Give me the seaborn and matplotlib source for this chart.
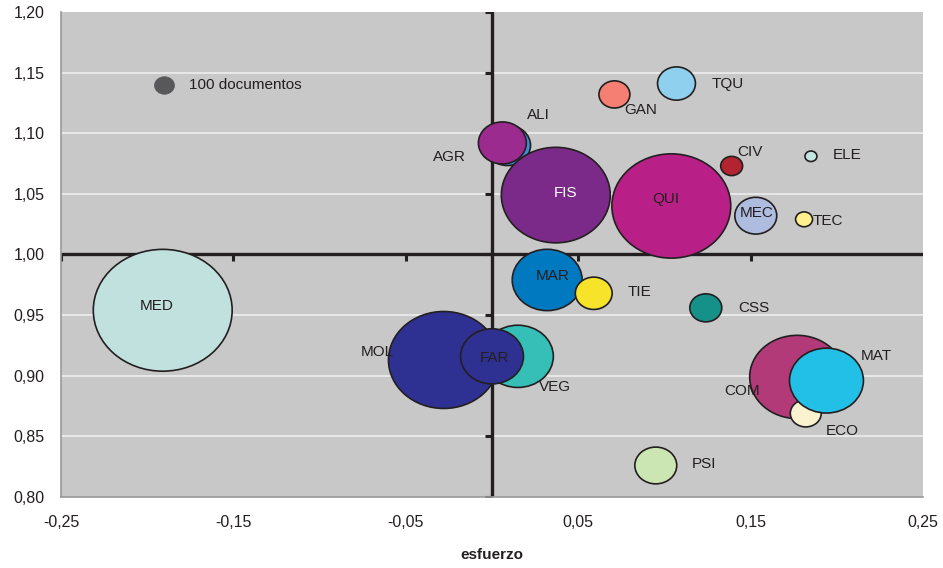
import numpy as np
import pandas as pd
import matplotlib
matplotlib.use('Agg')
import matplotlib.pyplot as plt
from matplotlib.path import Path
from matplotlib.transforms import Affine2D
from matplotlib.ticker import FuncFormatter, FixedLocator, MultipleLocator
import seaborn as sns

# datos (esfuerzo vs impacto, tamano = documentos)
areas = ['MED', 'MOL', 'VEG', 'FAR', 'ALI', 'AGR', 'FIS', 'QUI', 'MAR', 'TIE',
         'GAN', 'TQU', 'CIV', 'ELE', 'MEC', 'TEC', 'CSS', 'COM', 'ECO', 'MAT', 'PSI']
esfuerzo = [-0.191, -0.028, 0.015, -0.000, 0.009, 0.006, 0.037, 0.104, 0.032, 0.059,
            0.071, 0.107, 0.139, 0.185, 0.153, 0.181, 0.124, 0.177, 0.182, 0.194, 0.095]
impacto = [0.954, 0.913, 0.916, 0.916, 1.090, 1.092, 1.049, 1.040, 0.979, 0.968,
           1.132, 1.141, 1.073, 1.081, 1.032, 1.029, 0.956, 0.899, 0.869, 0.896, 0.826]
documentos = [4830, 3060, 1260, 990, 530, 575, 2970, 3540, 1225, 340,
              240, 360, 120, 36, 440, 72, 256, 2256, 240, 1370, 440]
colores = ['#c1e1de', '#2e3192', '#36bfb6', '#2e3192', '#3d8ed6', '#9b2b8e', '#7b2a8a',
           '#b81f87', '#0079c1', '#f7e32a', '#f47f72', '#8fd0ee', '#b22430', '#c3e6e2',
           '#aebce0', '#fdf08f', '#16918a', '#b33a78', '#fbf3cf', '#22bfe6', '#cce6b3']

# burbuja de referencia
ref_x, ref_y, ref_docs = -0.190, 1.140, 100

xticks = [-0.25, -0.15, -0.05, 0.05, 0.15, 0.25]

# desplazamiento de etiquetas (puntos)
offsets = {'MED': (-4, 3), 'MOL': (-48, 6), 'VEG': (27, -22), 'FAR': (2, -1),
           'ALI': (22, 22), 'AGR': (-38, -10), 'FIS': (7, 1.5), 'QUI': (-4, 5),
           'MAR': (4, 3), 'TIE': (33, 1), 'GAN': (19, -11.5), 'TQU': (37, 0),
           'CIV': (13, 10), 'ELE': (26, 1), 'MEC': (1, 2), 'TEC': (17, -1.5),
           'CSS': (34.5, 0), 'ECO': (26, -12.5), 'COM': (-40, -10), 'MAT': (36, 18),
           'PSI': (35, 1)}

df = pd.DataFrame({'area': areas, 'esfuerzo': esfuerzo,
                   'impacto': impacto, 'docs': documentos})

sns.set_style('white')
plt.rcParams['font.family'] = ['Liberation Sans', 'DejaVu Sans']

# burbujas algo estiradas en horizontal, como en el original
elipse = Path.unit_circle().transformed(Affine2D().scale(1.14, 1.0))
k = 2.07  # puntos^2 por documento

fig = plt.figure(figsize=(9.43, 5.68), dpi=100)
ax = fig.add_axes([0.0647, 0.125, 0.9141, 0.8539])
ax.set_facecolor('#c8c8c8')

for y in np.arange(0.85, 1.20, 0.05):
    ax.axhline(y, color='#e8e8e8', lw=1.4, zorder=0.5)

# ejes centrales con sus marcas
ax.axhline(1.0, color='#231f20', lw=2.4, zorder=1.5)
ax.axvline(0.0, color='#231f20', lw=2.4, zorder=1.5)
ax.plot(xticks[:-1], np.ones(len(xticks) - 1), ls='none', marker=3, ms=5,
        mew=2.2, color='#231f20', zorder=1.5)
ax.plot(np.zeros(9), np.arange(0.80, 1.21, 0.05), ls='none', marker=0, ms=5,
        mew=2.2, color='#231f20', zorder=1.5)

pal = dict(zip(areas, colores))
sns.scatterplot(data=df, x='esfuerzo', y='impacto', hue='area', palette=pal,
                size='docs', sizes=(0, max(documentos) * k),
                size_norm=(0, max(documentos)), marker=elipse,
                edgecolor='#231f20', linewidth=1.2, legend=False, ax=ax, zorder=2)
sns.scatterplot(x=[ref_x], y=[ref_y], s=ref_docs * k, marker=elipse,
                color='#58585a', edgecolor='#58585a', linewidth=0.5, ax=ax, zorder=2)
ax.annotate('100 documentos', (ref_x, ref_y), xytext=(18, 0), textcoords='offset points',
            ha='left', va='center', fontsize=11, color='#231f20', zorder=3)

for a, x, y in zip(areas, esfuerzo, impacto):
    dx, dy = offsets[a]
    ax.annotate(a, (x, y), xytext=(dx, dy), textcoords='offset points',
                ha='center', va='center', fontsize=11,
                color='white' if a == 'FIS' else '#231f20', zorder=3)

ax.set_xlim(-0.25, 0.25)
ax.set_ylim(0.80, 1.20)
ax.xaxis.set_major_locator(FixedLocator(xticks))
ax.yaxis.set_major_locator(MultipleLocator(0.05))
fmt = FuncFormatter(lambda v, p: f'{v:.2f}'.replace('.', ','))
ax.xaxis.set_major_formatter(fmt)
ax.yaxis.set_major_formatter(fmt)
ax.tick_params(length=0, labelsize=11.5, labelcolor='#231f20')
ax.tick_params(axis='y', pad=12)
ax.tick_params(axis='x', pad=13)

for s in ['top', 'right']:
    ax.spines[s].set_visible(False)
for s in ['left', 'bottom']:
    ax.spines[s].set_color('#9a9a9a')
    ax.spines[s].set_linewidth(1.2)

ax.set_xlabel('esfuerzo', fontsize=11, fontweight='bold', color='#231f20', labelpad=13)
ax.set_ylabel('')

fig.savefig('out.png', dpi=100)
